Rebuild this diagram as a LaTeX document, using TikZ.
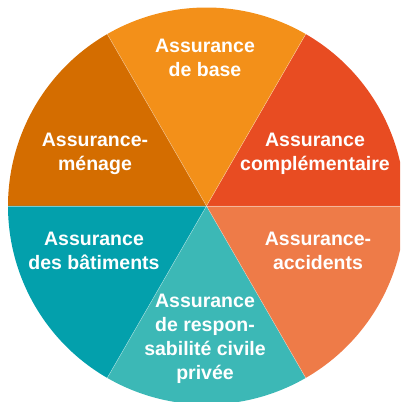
\documentclass[tikz,border=0pt]{standalone}
\usepackage{fontspec}
\setmainfont{Liberation Sans}
\definecolor{cTop}{HTML}{F39019}
\definecolor{cUR}{HTML}{E84C22}
\definecolor{cLR}{HTML}{EE7B48}
\definecolor{cBot}{HTML}{3CB8B6}
\definecolor{cLL}{HTML}{03A0AC}
\definecolor{cUL}{HTML}{D46D00}
\tikzset{
  lbl/.style={text=white, font=\bfseries\fontsize{19.5}{24}\selectfont, align=center, inner sep=0pt},
  sep/.style={draw=white, draw opacity=0.45, line width=0.5pt}
}
\begin{document}
\begin{tikzpicture}[x=1pt,y=1pt]
\useasboundingbox (0,0) rectangle (400,402);
\begin{scope}
\clip (0,0) rectangle (400,402);
\coordinate (c) at (206.5,196);
\def\R{198.5}
\fill[cUR]  (c) -- ++(0:\R) arc[start angle=0, end angle=60, radius=\R] -- cycle;
\fill[cTop] (c) -- ++(60:\R) arc[start angle=60, end angle=120, radius=\R] -- cycle;
\fill[cUL]  (c) -- ++(120:\R) arc[start angle=120, end angle=180, radius=\R] -- cycle;
\fill[cLL]  (c) -- ++(180:\R) arc[start angle=180, end angle=240, radius=\R] -- cycle;
\fill[cBot] (c) -- ++(240:\R) arc[start angle=240, end angle=300, radius=\R] -- cycle;
\fill[cLR]  (c) -- ++(300:\R) arc[start angle=300, end angle=360, radius=\R] -- cycle;
\foreach \a in {0,60,...,300} {\draw[sep] (c) -- ++(\a:\R);}
\end{scope}
\node[lbl] (base) at (205,402-58) {Assurance\\de base};
\node[lbl] (compl) at (315,402-154) {Assurance\\complémentaire};
\node[lbl] (menage) at (95,402-154) {Assurance-\\ménage};
\node[lbl] (bat) at (94,402-251) {Assurance\\des bâtiments};
\node[lbl] (acc) at (318,402-251) {Assurance-\\accidents};
\node[lbl] (rc) at (205,402-339) {Assurance\\de respon-\\sabilité civile\\privée};
\end{tikzpicture}
\end{document}
